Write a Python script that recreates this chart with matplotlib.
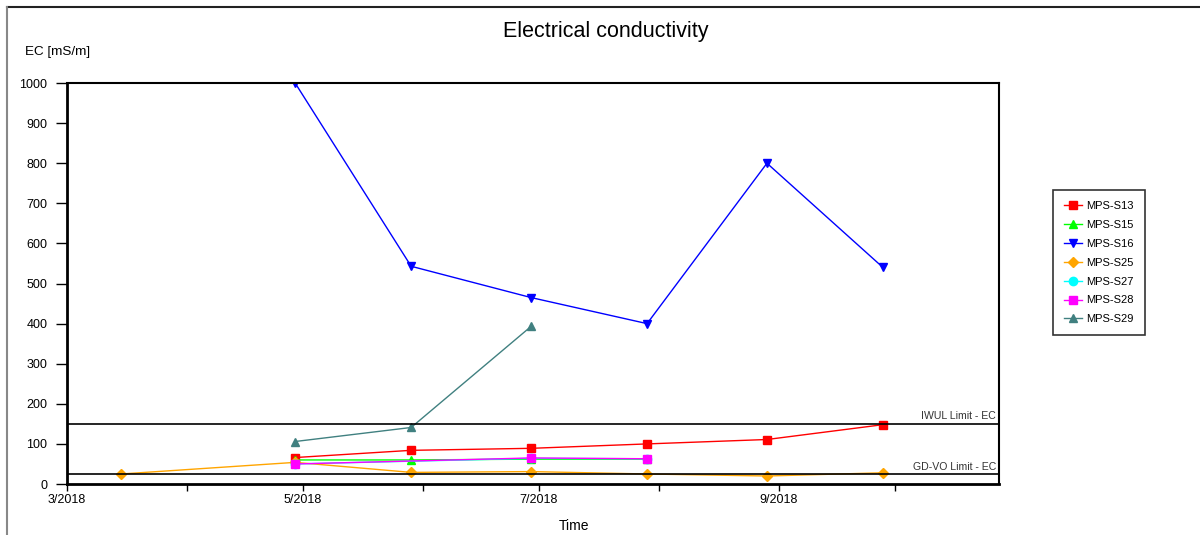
import datetime as dt
import matplotlib
matplotlib.use("Agg")
import matplotlib.pyplot as plt
import matplotlib.dates as mdates
from matplotlib.lines import Line2D

plt.rcParams['font.family'] = ['Liberation Sans', 'DejaVu Sans']

d = dt.datetime
s13_dates = [d(2018, 4, 29), d(2018, 5, 29), d(2018, 6, 29), d(2018, 7, 29), d(2018, 8, 29), d(2018, 9, 28)]
s13_vals = [66, 84, 89, 100, 111, 148]
s15_dates = [d(2018, 4, 29), d(2018, 5, 29), d(2018, 6, 29), d(2018, 7, 29)]
s15_vals = [60, 60, 62, 62]
s16_dates = [d(2018, 4, 29), d(2018, 5, 29), d(2018, 6, 29), d(2018, 7, 29), d(2018, 8, 29), d(2018, 9, 28)]
s16_vals = [1000, 543, 465, 400, 800, 540]
s25_dates = [d(2018, 3, 15), d(2018, 4, 29), d(2018, 5, 29), d(2018, 6, 29), d(2018, 7, 29), d(2018, 8, 29), d(2018, 9, 28)]
s25_vals = [25, 54, 29, 31, 25, 20, 28]
s27_dates = [d(2018, 4, 29), d(2018, 6, 29), d(2018, 7, 29)]
s27_vals = [50, 64, 63]
s28_dates = [d(2018, 4, 29), d(2018, 6, 29), d(2018, 7, 29)]
s28_vals = [50, 65, 63]
s29_dates = [d(2018, 4, 29), d(2018, 5, 29), d(2018, 6, 29)]
s29_vals = [106, 141, 393]

iwul_limit = 150
gdvo_limit = 25

series = [
    ("MPS-S13", s13_dates, s13_vals, "#ff0000", "s", 6),
    ("MPS-S15", s15_dates, s15_vals, "#00ff00", "^", 6),
    ("MPS-S16", s16_dates, s16_vals, "#0000ff", "v", 6),
    ("MPS-S25", s25_dates, s25_vals, "#ffa500", "D", 5),
    ("MPS-S27", s27_dates, s27_vals, "#00ffff", "o", 6),
    ("MPS-S28", s28_dates, s28_vals, "#ff00ff", "s", 6),
    ("MPS-S29", s29_dates, s29_vals, "#408080", "^", 6),
]

fig = plt.figure(figsize=(12, 5.35), dpi=100)
ax = fig.add_axes([0.0558, 0.0953, 0.7767, 0.7495])

for name, xs, ys, col, mk, ms in series:
    ax.plot(xs, ys, color=col, marker=mk, markersize=ms, linewidth=1, label=name)

ax.axhline(iwul_limit, color="black", linewidth=1.2)
ax.axhline(gdvo_limit, color="black", linewidth=1.2)
ax.text(0.997, iwul_limit + 6, "IWUL Limit - EC", transform=ax.get_yaxis_transform(),
        ha="right", va="bottom", fontsize=7.6, color="#333333")
ax.text(0.997, gdvo_limit + 6, "GD-VO Limit - EC", transform=ax.get_yaxis_transform(),
        ha="right", va="bottom", fontsize=7.6, color="#333333")

ax.set_xlim(d(2018, 3, 1), d(2018, 10, 28))
ax.set_ylim(0, 1000)
ax.set_yticks(range(0, 1001, 100))
ax.xaxis.set_major_locator(mdates.MonthLocator(bymonth=[3, 5, 7, 9]))
ax.xaxis.set_minor_locator(mdates.MonthLocator(bymonth=[4, 6, 8, 10]))
ax.xaxis.set_major_formatter(mdates.DateFormatter("%-m/%Y"))
ax.tick_params(axis="both", which="both", direction="out", labelsize=9, width=1)
ax.tick_params(axis="x", which="both", length=5, pad=2)
ax.tick_params(axis="y", which="major", length=8, pad=6)
for sp in ax.spines.values():
    sp.set_linewidth(1.5)
ax.spines["left"].set_linewidth(2)
ax.spines["bottom"].set_linewidth(2)

fig.text(0.505, 0.942, "Electrical conductivity", ha="center", va="center", fontsize=15.5)
fig.text(0.021, 0.902, "EC [mS/m]", ha="left", va="center", fontsize=9.7)
fig.text(0.478, 0.016, "Time", ha="center", va="center", fontsize=10)

handles = [Line2D([], [], color=col, marker=mk, markersize=ms, linewidth=1)
           for name, xs, ys, col, mk, ms in series]
labels = [s[0] for s in series]
leg = fig.legend(handles, labels, loc="upper left", bbox_to_anchor=(0.8775, 0.645),
                 fontsize=8, frameon=True, fancybox=False, edgecolor="black",
                 handlelength=1.6, labelspacing=0.8, borderpad=1.0, handletextpad=0.4,
                 borderaxespad=0.0)
leg.get_frame().set_linewidth(1.2)

fig.add_artist(Line2D([0.006, 1.0], [0.987, 0.987], transform=fig.transFigure, color="#222222", linewidth=1.5))
fig.add_artist(Line2D([0.006, 0.006], [0.0, 0.987], transform=fig.transFigure, color="#888888", linewidth=1.5))

fig.savefig("out.png", dpi=100)
